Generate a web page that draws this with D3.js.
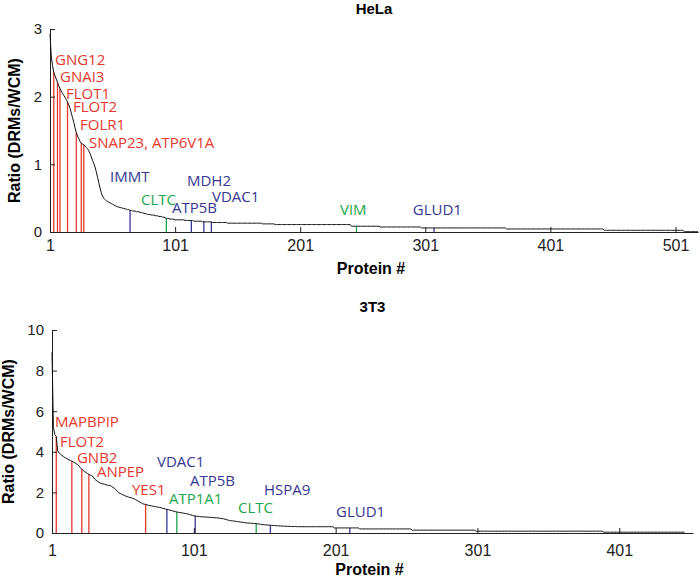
<!DOCTYPE html>
<html><head><meta charset="utf-8">
<script src="https://cdn.jsdelivr.net/npm/d3@7/dist/d3.min.js"></script>
<style>body{margin:0;background:#fff}svg{display:block}</style>
</head><body>
<svg id="chart" width="700" height="577"></svg>
<script>
// ---------- DATA ----------
const helaRatio = [
2.93,2.60,2.46,2.36,2.31,2.26,2.21,2.16,2.12,2.08,
2.05,2.02,1.99,1.96,1.92,1.88,1.83,1.76,1.69,1.62,
1.54,1.47,1.42,1.38,1.34,1.31,1.30,1.29,1.27,1.25,
1.23,1.20,1.16,1.11,1.06,1.01,0.96,0.89,0.81,0.73,
0.65,0.58,0.53,0.50,0.48,0.46,0.45,0.44,0.43,0.42,
0.41,0.40,0.39,0.38,0.37,0.37,0.36,0.36,0.35,0.35,
0.34,0.34,0.33,0.33,0.32,0.32,0.31,0.31,0.31,0.30,
0.30,0.30,0.29,0.29,0.28,0.28,0.27,0.27,0.26,0.26,
0.26,0.25,0.25,0.25,0.24,0.24,0.24,0.23,0.23,0.23,
0.22,0.22,0.21,0.20,0.20,0.20,0.19,0.19,0.19,0.19,
0.18,0.18,0.18,0.18,0.18,0.18,0.18,0.18,0.17,0.17,
0.17,0.17,0.17,0.17,0.17,0.16,0.16,0.16,0.16,0.16,
0.16,0.16,0.15,0.15,0.15,0.15,0.15,0.15,0.15,0.15,
0.14,0.14,0.14,0.14,0.14,0.14,0.14,0.14,0.14,0.14,
0.14,0.14,0.13,0.13,0.13,0.13,0.13,0.13,0.13,0.13,
0.13,0.13,0.13,0.13,0.13,0.13,0.13,0.13,0.13,0.13,
0.13,0.13,0.13,0.13,0.13,0.13,0.13,0.13,0.13,0.13,
0.12,0.12,0.12,0.12,0.12,0.12,0.12,0.12,0.12,0.12,
0.11,0.11,0.11,0.11,0.11,0.11,0.11,0.11,0.11,0.11,
0.11,0.11,0.11,0.11,0.11,0.11,0.11,0.11,0.11,0.11,
0.11,0.11,0.11,0.11,0.11,0.11,0.11,0.11,0.11,0.11,
0.11,0.11,0.11,0.11,0.11,0.11,0.11,0.11,0.11,0.11,
0.11,0.11,0.11,0.11,0.11,0.11,0.11,0.11,0.11,0.11,
0.11,0.11,0.11,0.11,0.11,0.11,0.11,0.11,0.11,0.11,
0.11,0.085,0.085,0.085,0.085,0.085,0.085,0.085,0.085,0.085,
0.085,0.085,0.085,0.085,0.085,0.085,0.085,0.085,0.085,0.085,
0.085,0.085,0.085,0.085,0.074,0.074,0.074,0.074,0.074,0.074,
0.074,0.074,0.074,0.074,0.074,0.074,0.074,0.074,0.074,0.074,
0.074,0.074,0.074,0.074,0.074,0.074,0.074,0.074,0.074,0.074,
0.074,0.074,0.074,0.074,0.074,0.074,0.074,0.06,0.06,0.06,
0.06,0.06,0.06,0.06,0.06,0.06,0.06,0.06,0.06,0.06,
0.06,0.06,0.06,0.06,0.06,0.06,0.06,0.06,0.06,0.06,
0.06,0.06,0.06,0.06,0.06,0.06,0.06,0.06,0.06,0.06,
0.06,0.06,0.06,0.06,0.06,0.06,0.06,0.06,0.06,0.06,
0.06,0.06,0.06,0.06,0.06,0.06,0.06,0.06,0.06,0.06,
0.06,0.06,0.06,0.06,0.06,0.06,0.06,0.06,0.06,0.06,
0.06,0.06,0.06,0.06,0.06,0.045,0.045,0.045,0.045,0.045,
0.045,0.045,0.045,0.045,0.045,0.045,0.045,0.045,0.045,0.045,
0.045,0.045,0.045,0.045,0.045,0.045,0.045,0.045,0.045,0.045,
0.045,0.045,0.045,0.045,0.045,0.045,0.045,0.045,0.045,0.045,
0.045,0.045,0.045,0.045,0.045,0.045,0.045,0.045,0.045,0.045,
0.045,0.045,0.045,0.045,0.045,0.045,0.045,0.045,0.045,0.045,
0.045,0.045,0.045,0.045,0.045,0.045,0.045,0.045,0.045,0.045,
0.045,0.045,0.045,0.045,0.045,0.045,0.045,0.045,0.045,0.045,
0.045,0.045,0.045,0.025,0.025,0.025,0.025,0.025,0.025,0.025,
0.025,0.025,0.025,0.025,0.025,0.025,0.025,0.025,0.025,0.025,
0.025,0.025,0.025,0.025,0.025,0.025,0.025,0.025,0.025,0.025,
0.025,0.025,0.025,0.025,0.025,0.025,0.025,0.025,0.025,0.025,
0.025,0.025,0.025,0.025,0.025,0.025,0.025,0.025,0.025,0.025,
0.025,0.025,0.025,0.025,0.025,0.025,0.025,0.025,0.025,0.025,
0.025,0.025,0.025,0.025,0.025,0.025,0.025,0.005,0.005,0.005,
0.005,0.005,0.005,0.005,0.005,0.005,0.005,0.005,0.005
];

const t3Ratio = [
8.90,5.20,4.85,4.75,4.05,3.95,3.88,3.82,3.77,3.72,
3.68,3.64,3.60,3.57,3.54,3.50,3.46,3.42,3.37,3.30,
3.22,3.14,3.08,3.03,2.98,2.93,2.89,2.86,2.82,2.78,
2.66,2.60,2.55,2.50,2.46,2.44,2.42,2.40,2.38,2.36,
2.35,2.33,2.30,2.25,2.20,2.14,2.06,1.98,1.95,1.92,
1.88,1.85,1.82,1.79,1.77,1.75,1.73,1.71,1.68,1.64,
1.60,1.56,1.52,1.48,1.44,1.42,1.41,1.39,1.37,1.35,
1.34,1.32,1.31,1.30,1.28,1.27,1.26,1.24,1.22,1.20,
1.18,1.16,1.15,1.13,1.11,1.09,1.07,1.05,1.04,1.02,
1.01,1.00,0.99,0.97,0.96,0.95,0.93,0.91,0.89,0.87,
0.85,0.84,0.83,0.82,0.81,0.80,0.80,0.79,0.79,0.78,
0.78,0.77,0.77,0.76,0.76,0.75,0.75,0.74,0.73,0.72,
0.71,0.70,0.68,0.66,0.64,0.62,0.61,0.60,0.59,0.58,
0.57,0.56,0.55,0.54,0.53,0.52,0.51,0.50,0.49,0.49,
0.48,0.48,0.47,0.47,0.46,0.45,0.44,0.43,0.42,0.41,
0.40,0.40,0.39,0.39,0.38,0.38,0.37,0.37,0.36,0.36,
0.35,0.35,0.34,0.34,0.34,0.33,0.33,0.33,0.32,0.32,
0.32,0.32,0.32,0.31,0.31,0.31,0.31,0.31,0.31,0.31,
0.31,0.31,0.31,0.31,0.31,0.31,0.31,0.31,0.31,0.31,
0.31,0.31,0.31,0.31,0.31,0.31,0.31,0.31,0.31,0.25,
0.25,0.25,0.25,0.25,0.25,0.25,0.25,0.25,0.25,0.25,
0.25,0.25,0.25,0.25,0.25,0.25,0.25,0.20,0.20,0.20,
0.20,0.20,0.20,0.20,0.20,0.20,0.20,0.20,0.20,0.20,
0.20,0.20,0.20,0.20,0.20,0.20,0.20,0.20,0.20,0.20,
0.20,0.20,0.20,0.20,0.20,0.20,0.20,0.20,0.20,0.20,
0.20,0.20,0.20,0.20,0.14,0.14,0.14,0.14,0.14,0.14,
0.14,0.14,0.14,0.14,0.14,0.14,0.14,0.14,0.14,0.14,
0.14,0.14,0.14,0.14,0.14,0.14,0.14,0.14,0.14,0.14,
0.14,0.14,0.14,0.14,0.14,0.14,0.14,0.14,0.14,0.14,
0.14,0.14,0.14,0.14,0.14,0.14,0.14,0.14,0.14,0.09,
0.09,0.09,0.09,0.09,0.09,0.09,0.09,0.09,0.09,0.09,
0.09,0.09,0.09,0.09,0.09,0.09,0.09,0.09,0.09,0.09,
0.09,0.09,0.09,0.09,0.09,0.09,0.09,0.09,0.09,0.09,
0.09,0.09,0.09,0.09,0.09,0.09,0.09,0.09,0.09,0.09,
0.09,0.09,0.09,0.09,0.09,0.09,0.09,0.09,0.09,0.09,
0.09,0.09,0.09,0.09,0.09,0.09,0.09,0.09,0.09,0.09,
0.09,0.09,0.09,0.09,0.09,0.09,0.09,0.09,0.09,0.09,
0.09,0.09,0.09,0.09,0.09,0.09,0.09,0.09,0.09,0.09,
0.09,0.09,0.09,0.09,0.09,0.09,0.09,0.09,0.09,0.04,
0.04,0.04,0.04,0.04,0.04,0.04,0.04,0.04,0.04,0.04,
0.04,0.04,0.04,0.04,0.04,0.04,0.04,0.04,0.04,0.04,
0.04,0.04,0.04,0.04,0.04,0.04,0.04,0.04,0.04,0.04,
0.04,0.04,0.04,0.04,0.04,0.04,0.04,0.04,0.04,0.04,
0.04,0.04,0.04,0.04,0.04,0.04,0.04,0.04,0.04,0.04,
0.04,0.04,0.04,0.04,0.04,0.04,0.04
];

// marked proteins (rank in sorted list) and their group
const helaMarkRank  = [4,7,9,15,22,26,28,65,94,114,124,130,246,308];
const helaMarkGroup = ["raft","raft","raft","raft","raft","raft","raft","mito","other","mito","mito","mito","other","mito"];
const helaLabels     = ["GNG12","GNAI3","FLOT1","FLOT2","FOLR1","SNAP23, ATP6V1A","IMMT","CLTC","ATP5B","MDH2","VDAC1","VIM","GLUD1"];
const helaLabelGroup = ["raft","raft","raft","raft","raft","raft","mito","other","mito","mito","mito","other","mito"];

const t3MarkRank  = [4,15,22,27,67,82,102,89,145,155,211];
const t3MarkGroup = ["raft","raft","raft","raft","raft","mito","mito","other","other","mito","mito"];
const t3Labels     = ["MAPBPIP","FLOT2","GNB2","ANPEP","YES1","VDAC1","ATP5B","ATP1A1","CLTC","HSPA9","GLUD1"];
const t3LabelGroup = ["raft","raft","raft","raft","raft","mito","mito","other","other","mito","mito"];

const helaXTicks = [1,101,201,301,401,501];
const helaYTicks = [0,1,2,3];
const t3XTicks = [1,101,201,301,401];
const t3YTicks = [0,2,4,6,8,10];

// ---------- LAYOUT / STYLE ----------
const groupColor = {raft:"#e6372d", mito:"#353892", other:"#1ea64e"};
// label anchors (left/baseline) in data units
const helaLabelAt = [[5.0,2.47],[9.0,2.22],[13.8,1.97],[19.4,1.77],[25,1.51],[32.2,1.24],[49,0.74],[73.7,0.40],[98.5,0.28],[110.5,0.68],[130.5,0.44],[232.8,0.25],[291,0.25]];
const t3LabelAt = [[3.1,5.21],[6.6,4.22],[18.6,3.46],[32.7,2.77],[57.4,1.87],[75,3.24],[98.3,2.32],[83.5,1.43],[132.2,0.97],[150.5,1.87],[201.3,0.80]];

const svg = d3.select("#chart");
const sans = "'Liberation Sans', Arial, sans-serif";

function panel(cfg){
  const x = d3.scaleLinear().domain(cfg.xDomain).range(cfg.xRange);
  const y = d3.scaleLinear().domain(cfg.yDomain).range(cfg.yRange);
  const g = svg.append("g");

  // marker lines
  g.selectAll("line.mark").data(cfg.rank).join("line")
    .attr("class","mark")
    .attr("x1", d=>x(d)).attr("x2", d=>x(d))
    .attr("y1", y(0)).attr("y2", d=>y(cfg.values[d-1]))
    .attr("stroke", (d,i)=>groupColor[cfg.markGroup[i]])
    .attr("stroke-width", 1.3);

  // axes
  const xa = g.append("g").attr("transform",`translate(0,${cfg.yRange[0]})`)
    .call(d3.axisBottom(x).tickValues(cfg.xTicks).tickFormat(d3.format("d"))
      .tickSizeInner(-5).tickSizeOuter(0).tickPadding(cfg.xPad));
  const ya = g.append("g").attr("transform",`translate(${cfg.xRange[0]},0)`)
    .call(d3.axisLeft(y).tickValues(cfg.yTicks).tickFormat(d3.format("d"))
      .tickSizeInner(-5).tickSizeOuter(0).tickPadding(8));
  [xa,ya].forEach(a=>{
    a.select(".domain").attr("stroke","#222").attr("stroke-width",1);
    a.selectAll(".tick line").attr("stroke","#222");
    a.selectAll("text").attr("fill","#222").attr("font-family",sans);
  });
  xa.selectAll("text").attr("font-size",16);
  ya.selectAll("text").attr("font-size",15);

  // curve
  g.append("path").datum(cfg.values)
    .attr("fill","none").attr("stroke","#111").attr("stroke-width",1)
    .attr("d", d3.line().x((d,i)=>x(i+1)).y(d=>y(d)));

  // labels
  g.selectAll("text.lab").data(cfg.labels).join("text")
    .attr("class","lab")
    .attr("x",(d,i)=>x(cfg.labelAt[i][0]))
    .attr("y",(d,i)=>y(cfg.labelAt[i][1]))
    .attr("fill",(d,i)=>groupColor[cfg.labelGroup[i]])
    .attr("font-family","'Open Sans', 'Noto Sans', sans-serif")
    .attr("font-size",15)
    .text(d=>d);

  // titles
  const cx = (cfg.xRange[0]+cfg.xRange[1])/2;
  g.append("text").attr("x",cx).attr("y",cfg.titleY).attr("text-anchor","middle")
    .attr("font-family",sans).attr("font-weight","bold").attr("font-size",15).text(cfg.title);
  g.append("text").attr("x",cx-3).attr("y",cfg.xLabelY).attr("text-anchor","middle")
    .attr("font-family",sans).attr("font-weight","bold").attr("font-size",16).text("Protein #");
  g.append("text").attr("transform",`translate(${cfg.yLabelX},${(cfg.yRange[0]+cfg.yRange[1])/2})rotate(-90)`)
    .attr("text-anchor","middle")
    .attr("font-family",sans).attr("font-weight","bold").attr("font-size",16).text("Ratio (DRMs/WCM)");
}

panel({values:helaRatio, rank:helaMarkRank, markGroup:helaMarkGroup,
  labels:helaLabels, labelGroup:helaLabelGroup, labelAt:helaLabelAt,
  xTicks:helaXTicks, yTicks:helaYTicks,
  xDomain:[1,519], xRange:[50,698], yDomain:[0,3], yRange:[232,29],
  xPad:8, title:"HeLa", titleY:14, xLabelY:274, yLabelX:20});

panel({values:t3Ratio, rank:t3MarkRank, markGroup:t3MarkGroup,
  labels:t3Labels, labelGroup:t3LabelGroup, labelAt:t3LabelAt,
  xTicks:t3XTicks, yTicks:t3YTicks,
  xDomain:[1,453], xRange:[52,693], yDomain:[0,10], yRange:[533,330],
  xPad:12, title:"3T3", titleY:312, xLabelY:575, yLabelX:14});
</script>
</body></html>
